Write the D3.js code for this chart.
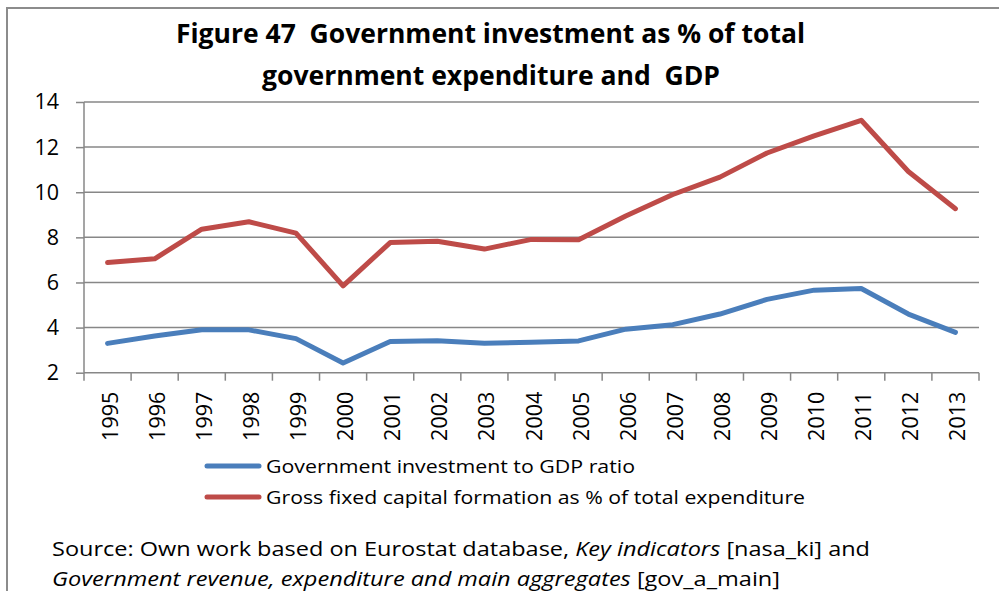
<!DOCTYPE html>
<html><head><meta charset="utf-8">
<script src="https://cdn.jsdelivr.net/npm/d3@7"></script>
<style>body{margin:0;background:#fff;} svg{display:block;}</style>
</head><body>
<svg id="c" width="999" height="591"></svg>
<script>
const years = ["1995","1996","1997","1998","1999","2000","2001","2002","2003","2004","2005","2006","2007","2008","2009","2010","2011","2012","2013"];
const investGDP = [3.30,3.63,3.90,3.90,3.51,2.43,3.38,3.42,3.31,3.35,3.41,3.93,4.13,4.60,5.25,5.66,5.73,4.60,3.79];
const gfcfExp = [6.88,7.05,8.36,8.69,8.19,5.85,7.77,7.83,7.48,7.91,7.89,8.95,9.90,10.67,11.74,12.50,13.19,10.92,9.27];
const yTicks = [2,4,6,8,10,12,14];
const seriesNames = ["Government investment to GDP ratio","Gross fixed capital formation as % of total expenditure"];
const colors = ["#4A7EBB","#BE4B48"];

const font = "Open Sans, Noto Sans, sans-serif";
const svg = d3.select("#c");
const L=84, R=979, T=102, B=372.7;
// border
svg.append("path").attr("d","M7,591 V8 H999").attr("fill","none").attr("stroke","#8c8c8c").attr("stroke-width",2);

const x = d3.scaleBand().domain(years).range([L,R]);
const y = d3.scaleLinear().domain([2,14]).range([B,T]);

// gridlines
svg.append("g").selectAll("line").data(yTicks.filter(d=>d>2)).join("line")
  .attr("x1",L).attr("x2",R).attr("y1",d=>y(d)).attr("y2",d=>y(d))
  .attr("stroke","#878787").attr("stroke-width",1.5);

// y axis
const ya = svg.append("g").attr("transform",`translate(${L},0)`)
  .call(d3.axisLeft(y).tickValues(yTicks).tickSize(8).tickPadding(17).tickFormat(d3.format("d")));
ya.select(".domain").attr("stroke","#878787").attr("stroke-width",1.5).attr("d",`M0,${T}V${B}`);
ya.selectAll(".tick line").attr("stroke","#878787").attr("stroke-width",1.5);
ya.selectAll("text").attr("font-family",font).attr("font-size",21.5).attr("fill","#000");

// x axis
const xa = svg.append("g").attr("transform",`translate(0,${B})`);
xa.append("line").attr("x1",L).attr("x2",R).attr("stroke","#878787").attr("stroke-width",1.5);
const bounds = years.map(d=>x(d)).concat([R]);
xa.selectAll("line.tk").data(bounds).join("line").attr("class","tk")
  .attr("x1",d=>d).attr("x2",d=>d).attr("y1",0).attr("y2",8)
  .attr("stroke","#878787").attr("stroke-width",1.5);
xa.selectAll("text").data(years).join("text")
  .attr("transform",d=>`translate(${x(d)+x.bandwidth()/2+10},19) rotate(-90)`)
  .attr("text-anchor","end").attr("font-family",font).attr("font-size",21.5).attr("fill","#000")
  .text(d=>d);

// lines
const line = d3.line().x((d,i)=>x(years[i])+x.bandwidth()/2).y(d=>y(d));
[investGDP,gfcfExp].forEach((s,k)=>{
  svg.append("path").datum(s).attr("d",line).attr("fill","none")
    .attr("stroke",colors[k]).attr("stroke-width",5).attr("stroke-linejoin","round").attr("stroke-linecap","round");
});

// title
const title = svg.append("g").attr("font-family",font).attr("font-weight","bold").attr("font-size",26).attr("fill","#000");
title.append("text").attr("x",176).attr("y",43).attr("textLength",629).attr("lengthAdjust","spacingAndGlyphs")
  .attr("xml:space","preserve").text("Figure 47  Government investment as % of total");
title.append("text").attr("x",262).attr("y",85).attr("textLength",458).attr("lengthAdjust","spacingAndGlyphs")
  .attr("xml:space","preserve").text("government expenditure and  GDP");

// legend
const legY=[466,497], legW=[369,539];
seriesNames.forEach((n,k)=>{
  svg.append("line").attr("x1",207).attr("x2",259).attr("y1",legY[k]).attr("y2",legY[k])
    .attr("stroke",colors[k]).attr("stroke-width",5).attr("stroke-linecap","round");
  svg.append("text").attr("x",266).attr("y",legY[k]+7).attr("font-family",font).attr("font-size",19)
    .attr("textLength",legW[k]).attr("lengthAdjust","spacingAndGlyphs").text(n);
});

// source
const src = svg.append("g").attr("font-family",font).attr("font-size",20).attr("fill","#000");
const s1 = src.append("text").attr("x",52).attr("y",556).attr("textLength",818).attr("lengthAdjust","spacingAndGlyphs");
s1.append("tspan").text("Source: Own work based on Eurostat database, ");
s1.append("tspan").attr("font-style","italic").text("Key indicators");
s1.append("tspan").text(" [nasa_ki] and");
const s2 = src.append("text").attr("x",52).attr("y",586).attr("textLength",728).attr("lengthAdjust","spacingAndGlyphs");
s2.append("tspan").attr("font-style","italic").text("Government revenue, expenditure and main aggregates");
s2.append("tspan").text(" [gov_a_main]");
</script>
</body></html>
